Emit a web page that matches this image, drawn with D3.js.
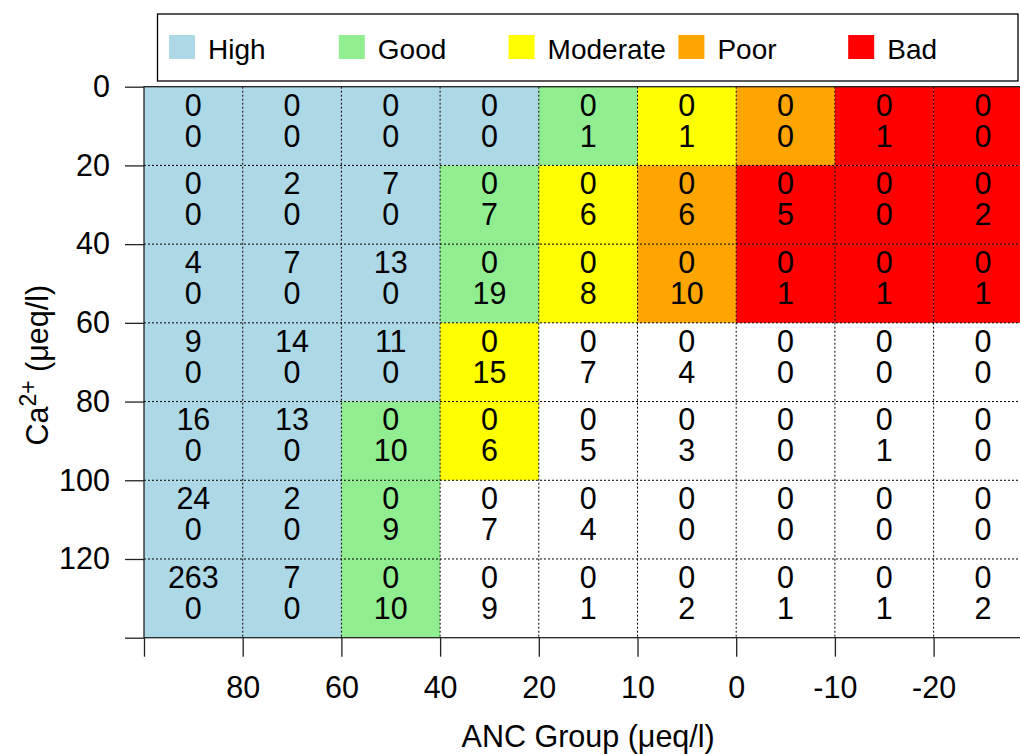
<!DOCTYPE html>
<html>
<head>
<meta charset="utf-8">
<script src="https://cdn.jsdelivr.net/npm/d3@7"></script>
<style>
  body { margin: 0; background: #fff; }
  text { font-family: "Liberation Sans", Arial, sans-serif; fill: #000; }
</style>
</head>
<body>
<div id="chart"></div>
<script>
// ANC group labels at the column boundaries (first boundary unlabeled)
const ancLabels = ["", "80", "60", "40", "20", "10", "0", "-10", "-20"];
const caTicks = [0, 20, 40, 60, 80, 100, 120, 140];
const caStep = 20;

const classNames = ["High", "Good", "Moderate", "Poor", "Bad"];
const classColors = ["#ADD8E6", "#90EE90", "#FFFF00", "#FFA500", "#FF0000"];

// class index per cell, -1 = no fill (rows: Ca 0-20 ... 120-140)
const cellClass = [
  [0, 0, 0, 0, 1, 2, 3, 4, 4],
  [0, 0, 0, 1, 2, 3, 4, 4, 4],
  [0, 0, 0, 1, 2, 3, 4, 4, 4],
  [0, 0, 0, 2, -1, -1, -1, -1, -1],
  [0, 0, 1, 2, -1, -1, -1, -1, -1],
  [0, 0, 1, -1, -1, -1, -1, -1, -1],
  [0, 0, 1, -1, -1, -1, -1, -1, -1]
];

const topCounts = [
  [0, 0, 0, 0, 0, 0, 0, 0, 0],
  [0, 2, 7, 0, 0, 0, 0, 0, 0],
  [4, 7, 13, 0, 0, 0, 0, 0, 0],
  [9, 14, 11, 0, 0, 0, 0, 0, 0],
  [16, 13, 0, 0, 0, 0, 0, 0, 0],
  [24, 2, 0, 0, 0, 0, 0, 0, 0],
  [263, 7, 0, 0, 0, 0, 0, 0, 0]
];

const bottomCounts = [
  [0, 0, 0, 0, 1, 1, 0, 1, 0],
  [0, 0, 0, 7, 6, 6, 5, 0, 2],
  [0, 0, 0, 19, 8, 10, 1, 1, 1],
  [0, 0, 0, 15, 7, 4, 0, 0, 0],
  [0, 0, 10, 6, 5, 3, 0, 1, 0],
  [0, 0, 9, 7, 4, 0, 0, 0, 0],
  [0, 0, 10, 9, 1, 2, 1, 1, 2]
];

const width = 1020, height = 754;
const nCols = ancLabels.length;
const nRows = cellClass.length;
const fs = "30.5px";

const svg = d3.select("#chart").append("svg")
  .attr("width", width)
  .attr("height", height);

const x = d3.scaleLinear().domain([0, nCols]).range([144, 1032.3]);
const y = d3.scaleLinear().domain([0, nRows * caStep]).range([86.7, 637.7]);

// cells
const cells = [];
cellClass.forEach((row, r) => row.forEach((c, j) => {
  cells.push({r, j, c, top: topCounts[r][j], bottom: bottomCounts[r][j]});
}));

svg.append("g").selectAll("rect")
  .data(cells.filter(d => d.c >= 0))
  .join("rect")
    .attr("x", d => x(d.j))
    .attr("y", d => y(d.r * caStep))
    .attr("width", d => x(d.j + 1) - x(d.j))
    .attr("height", d => y((d.r + 1) * caStep) - y(d.r * caStep))
    .attr("fill", d => classColors[d.c]);

// dotted grid
const grid = svg.append("g")
  .attr("stroke", "#000")
  .attr("stroke-width", 1)
  .attr("stroke-dasharray", "2,2");
grid.selectAll(".vg")
  .data(d3.range(1, nCols))
  .join("line")
    .attr("x1", d => x(d)).attr("x2", d => x(d))
    .attr("y1", y(0)).attr("y2", y(nRows * caStep));
grid.selectAll(".hg")
  .data(d3.range(1, nRows))
  .join("line")
    .attr("x1", x(0)).attr("x2", x(nCols))
    .attr("y1", d => y(d * caStep)).attr("y2", d => y(d * caStep));

// counts
const txt = svg.append("g")
  .attr("text-anchor", "middle")
  .style("font-size", fs);
cells.forEach(d => {
  const cx = (x(d.j) + x(d.j + 1)) / 2;
  const cy = (y(d.r * caStep) + y((d.r + 1) * caStep)) / 2;
  txt.append("text").attr("x", cx).attr("y", cy - 10.5).text(d.top);
  txt.append("text").attr("x", cx).attr("y", cy + 20.5).text(d.bottom);
});

// plot box
svg.append("rect")
  .attr("x", x(0)).attr("y", y(0))
  .attr("width", x(nCols) - x(0))
  .attr("height", y(nRows * caStep) - y(0))
  .attr("fill", "none")
  .attr("stroke", "#222")
  .attr("stroke-width", 1.3);

// y axis
const yAxis = svg.append("g")
  .attr("transform", `translate(${x(0)},0)`)
  .call(d3.axisLeft(y)
    .tickValues(caTicks)
    .tickSize(19)
    .tickPadding(15)
    .tickFormat(d => d === nRows * caStep ? "" : d));
yAxis.select(".domain").remove();
yAxis.selectAll("line").attr("stroke", "#222").attr("stroke-width", 1.3);
yAxis.selectAll("text").style("font-size", fs).attr("font-family", null);

// x axis
const xAxis = svg.append("g")
  .attr("transform", `translate(0,${y(nRows * caStep)})`)
  .call(d3.axisBottom(x)
    .tickValues(d3.range(0, nCols))
    .tickSize(19)
    .tickPadding(20)
    .tickFormat(i => ancLabels[i]));
xAxis.select(".domain").remove();
xAxis.selectAll("line").attr("stroke", "#222").attr("stroke-width", 1.3);
xAxis.selectAll("text").style("font-size", fs).attr("font-family", null);

// axis titles
svg.append("text")
  .attr("x", (x(0) + x(nCols)) / 2)
  .attr("y", 747)
  .attr("text-anchor", "middle")
  .style("font-size", fs)
  .text("ANC Group (\u03BCeq/l)");

const yt = svg.append("text")
  .attr("transform", `translate(48,${(y(0) + y(nRows * caStep)) / 2 + 3}) rotate(-90)`)
  .attr("text-anchor", "middle")
  .style("font-size", fs);
yt.append("tspan").text("Ca");
yt.append("tspan").attr("dy", -12).style("font-size", "23px").text("2+");
yt.append("tspan").attr("dy", 12).text(" (\u03BCeq/l)");

// legend
const legend = svg.append("g");
legend.append("rect")
  .attr("x", 157.5).attr("y", 14)
  .attr("width", 860.5).attr("height", 67)
  .attr("fill", "#fff")
  .attr("stroke", "#000")
  .attr("stroke-width", 1.3);
const items = legend.selectAll(".item")
  .data(classNames)
  .join("g")
    .attr("transform", (d, i) => `translate(${169 + i * 169.8},0)`);
items.append("rect")
  .attr("x", 0).attr("y", 35)
  .attr("width", 26).attr("height", 24)
  .attr("fill", (d, i) => classColors[i]);
items.append("text")
  .attr("x", 39).attr("y", 59)
  .style("font-size", "28px")
  .text(d => d);
</script>
</body>
</html>
